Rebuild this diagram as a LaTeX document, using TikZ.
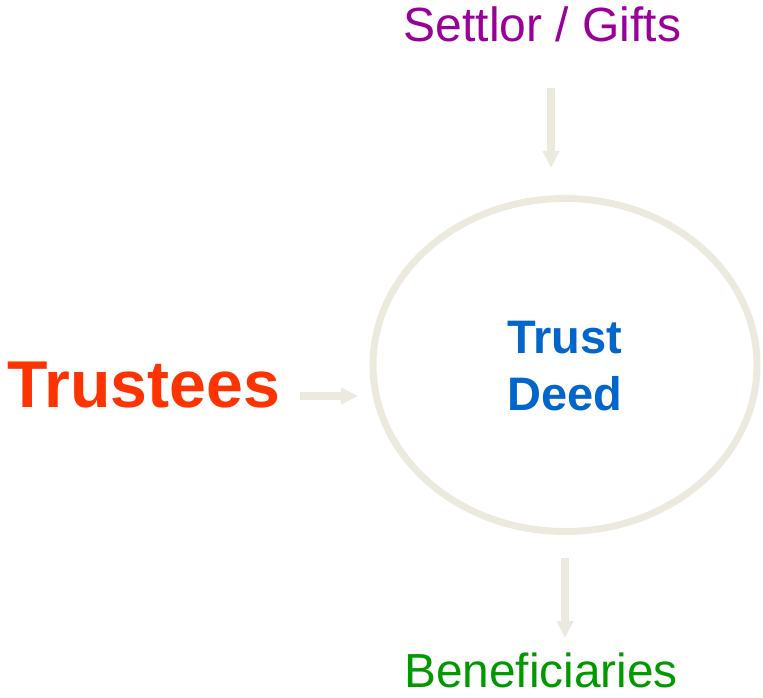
\documentclass[tikz,border=0pt]{standalone}
\usepackage{fontspec}
\setmainfont{Liberation Sans}
\usetikzlibrary{arrows.meta,shapes.geometric}
\definecolor{pale}{HTML}{ECEADF}
\definecolor{settlorc}{HTML}{990099}
\definecolor{benefc}{HTML}{009900}
\definecolor{trusteec}{HTML}{FF3300}
\definecolor{deedc}{HTML}{0066CC}
\begin{document}
\begin{tikzpicture}[x=1pt,y=1pt,
  lbl/.style={inner sep=0pt,anchor=base},
  arr/.style={draw=pale,line width=8pt,-{Triangle[length=17pt,width=16pt]}}]
\useasboundingbox (0,0) rectangle (763,697);
\node[ellipse,draw=pale,line width=7pt,minimum width=384pt,minimum height=333pt,inner sep=0pt] (deed) at (565,332) {};
\node[lbl,text=deedc,font=\fontsize{47}{56}\selectfont\bfseries] (trust) at (565,343) {Trust};
\node[lbl,text=deedc,font=\fontsize{47}{56}\selectfont\bfseries] (deedtxt) at (565,287) {Deed};
\node[lbl,text=settlorc,font=\fontsize{48}{56}\selectfont] (settlor) at (542.5,655) {Settlor / Gifts};
\node[lbl,text=benefc,font=\fontsize{47.8}{56}\selectfont] (benef) at (541,10) {Beneficiaries};
\node[lbl,anchor=base west,text=trusteec,font=\fontsize{66.2}{80}\selectfont\bfseries] (trustees) at (7.5,290) {Trustees};
\coordinate (s1) at (551,609);
\coordinate (s2) at (551,529);
\coordinate (t1) at (300,301);
\coordinate (t2) at (358,301);
\coordinate (b1) at (565,139);
\coordinate (b2) at (565,59);
\draw[arr] (s1) -- (s2);
\draw[arr] (t1) -- (t2);
\draw[arr] (b1) -- (b2);
\end{tikzpicture}
\end{document}
